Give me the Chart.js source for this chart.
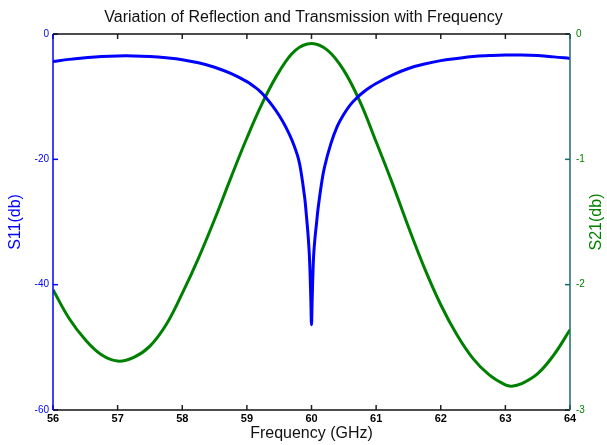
<!DOCTYPE html>
<html><head><meta charset="utf-8">
<script src="https://cdn.jsdelivr.net/npm/chart.js@4/dist/chart.umd.min.js"></script>
<style>html,body{margin:0;padding:0;background:#fff}#wrap{width:607px;height:445px}</style>
</head><body><div id="wrap"><canvas id="c" width="607" height="445"></canvas></div>
<script>
// ---- data ----
const chartTitle = 'Variation of Reflection and Transmission with Frequency';
const xTitle = 'Frequency (GHz)';
const s11Title = 'S11(db)';
const s21Title = 'S21(db)';

const s11Freq = [56.0,56.25,56.5,56.75,57.0,57.25,57.5,57.75,58.0,58.25,58.5,58.75,59.0,59.1,59.2,59.3,59.4,59.5,59.6,59.7,59.8,59.85,59.88,59.9,59.93,59.95,59.97,59.99,60.0,60.01,60.03,60.05,60.08,60.1,60.15,60.2,60.3,60.4,60.5,60.6,60.7,60.8,60.9,61.0,61.25,61.5,61.75,62.0,62.25,62.5,62.75,63.0,63.25,63.5,63.75,64.0];
const s11Db = [-4.4,-4.05,-3.8,-3.6,-3.5,-3.5,-3.6,-3.8,-4.1,-4.6,-5.3,-6.3,-7.6,-8.3,-9.1,-10.2,-11.5,-13.0,-14.8,-17.0,-20.0,-22.8,-25.0,-26.6,-30.0,-32.5,-36.0,-42.5,-46.4,-42.5,-36.0,-33.0,-30.0,-28.0,-24.2,-21.3,-17.5,-14.7,-12.8,-11.3,-10.2,-9.3,-8.55,-7.9,-6.55,-5.5,-4.8,-4.25,-3.9,-3.6,-3.45,-3.35,-3.35,-3.45,-3.65,-3.9];

const s21Freq = [56.0,56.25,56.5,56.75,57.0,57.25,57.5,57.75,58.0,58.25,58.5,58.75,59.0,59.25,59.5,59.75,60.0,60.25,60.5,60.75,61.0,61.25,61.5,61.75,62.0,62.25,62.5,62.75,63.0,63.1,63.25,63.5,63.75,64.0];
const s21Db = [-2.04,-2.27,-2.44,-2.56,-2.61,-2.58,-2.49,-2.32,-2.07,-1.79,-1.48,-1.15,-0.83,-0.54,-0.30,-0.13,-0.075,-0.13,-0.29,-0.54,-0.86,-1.19,-1.54,-1.87,-2.16,-2.40,-2.59,-2.72,-2.80,-2.81,-2.79,-2.71,-2.56,-2.36];

const xTicks = [56,57,58,59,60,61,62,63,64];
const s11Ticks = [0,-20,-40,-60];
const s21Ticks = [0,-1,-2,-3];

// ---- chart ----
Chart.defaults.font.family = '"Liberation Sans", Arial, Helvetica, sans-serif';
const BLUE = '#0000ff', GREEN = '#008000', TEAL = '#1b6b6b';

const framePlugin = {
  id: 'frame',
  afterDatasetsDraw(chart) {
    const {ctx, chartArea: {left, right, top, bottom}, scales: {x, y, y2}} = chart;
    ctx.save();
    ctx.lineWidth = 1.5;
    ctx.strokeStyle = '#222';
    xTicks.forEach(v => {
      const px = x.getPixelForValue(v);
      ctx.beginPath(); ctx.moveTo(px, bottom); ctx.lineTo(px, bottom - 5); ctx.stroke();
      ctx.beginPath(); ctx.moveTo(px, top); ctx.lineTo(px, top + 5); ctx.stroke();
    });
    ctx.strokeStyle = BLUE;
    s11Ticks.forEach(v => {
      const py = y.getPixelForValue(v);
      ctx.beginPath(); ctx.moveTo(left, py); ctx.lineTo(left + 5, py); ctx.stroke();
    });
    ctx.strokeStyle = TEAL;
    s21Ticks.forEach(v => {
      const py = y2.getPixelForValue(v);
      ctx.beginPath(); ctx.moveTo(right, py); ctx.lineTo(right - 5, py); ctx.stroke();
    });
    ctx.strokeStyle = '#111';
    ctx.beginPath(); ctx.moveTo(left, top); ctx.lineTo(right, top); ctx.stroke();
    ctx.beginPath(); ctx.moveTo(left, bottom); ctx.lineTo(right, bottom); ctx.stroke();
    ctx.strokeStyle = BLUE;
    ctx.beginPath(); ctx.moveTo(left, top); ctx.lineTo(left, bottom); ctx.stroke();
    ctx.strokeStyle = TEAL;
    ctx.beginPath(); ctx.moveTo(right, top); ctx.lineTo(right, bottom); ctx.stroke();
    ctx.translate(597, (top + bottom) / 2);
    ctx.rotate(-Math.PI / 2);
    ctx.fillStyle = GREEN;
    ctx.font = '16px "Liberation Sans", Arial, sans-serif';
    ctx.textAlign = 'center';
    ctx.textBaseline = 'middle';
    ctx.fillText(s21Title, 0, 0);
    ctx.restore();
  }
};

new Chart(document.getElementById('c'), {
  type: 'line',
  data: {
    datasets: [
      {label: 'S11', data: s11Freq.map((f, i) => ({x: f, y: s11Db[i]})), yAxisID: 'y',
       borderColor: BLUE, borderWidth: 3, pointRadius: 0, tension: 0.4, fill: false},
      {label: 'S21', data: s21Freq.map((f, i) => ({x: f, y: s21Db[i]})), yAxisID: 'y2',
       borderColor: GREEN, borderWidth: 3, pointRadius: 0, tension: 0.4, fill: false}
    ]
  },
  options: {
    responsive: false, animation: false, devicePixelRatio: 1,
    layout: {padding: 0},
    plugins: {
      legend: {display: false}, tooltip: {enabled: false},
      title: {display: true, text: chartTitle, color: '#111',
              font: {size: 16, weight: 'normal'}, padding: {top: 8, bottom: 6.8}}
    },
    scales: {
      x: {
        type: 'linear', min: 56, max: 64,
        afterBuildTicks(s) { s.ticks = xTicks.map(v => ({value: v})); },
        ticks: {color: '#000', font: {size: 11, weight: 'bold'}, padding: 2, maxRotation: 0, autoSkip: false},
        grid: {display: false, drawTicks: false}, border: {display: false},
        title: {display: true, text: xTitle, color: '#111', font: {size: 16}, padding: {top: 0, bottom: 2}},
        afterFit(s) { s.height = 35; }
      },
      y: {
        type: 'linear', position: 'left', min: -60, max: 0,
        afterBuildTicks(s) { s.ticks = s11Ticks.map(v => ({value: v})); },
        ticks: {color: BLUE, font: {size: 10}, padding: 4},
        grid: {display: false, drawTicks: false}, border: {display: false},
        title: {display: true, text: s11Title, color: BLUE, font: {size: 16}, padding: {top: 6, bottom: 0}},
        afterFit(s) { s.width = 53; }
      },
      y2: {
        type: 'linear', position: 'right', min: -3, max: 0,
        afterBuildTicks(s) { s.ticks = s21Ticks.map(v => ({value: v})); },
        ticks: {color: GREEN, font: {size: 10}, padding: 6},
        grid: {display: false, drawTicks: false}, border: {display: false},
        afterFit(s) { s.width = 37; }
      }
    }
  },
  plugins: [framePlugin]
});
</script></body></html>
